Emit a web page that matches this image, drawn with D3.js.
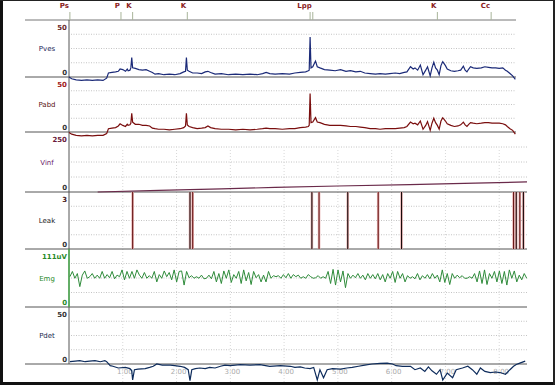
<!DOCTYPE html>
<html>
<head>
<meta charset="utf-8">
<script src="https://cdn.jsdelivr.net/npm/d3@7/dist/d3.min.js"></script>
<style>
  body { margin: 0; background: #fff; }
  svg { display: block; font-family: "DejaVu Sans", sans-serif; }
</style>
</head>
<body>
<svg id="chart" width="555" height="385"></svg>
<script>
// ---- data (time in seconds) ----
const markerNames = ['Ps', 'P', 'K', 'K', 'Lpp', 'K', 'Cc'];
const markerTicks = [[1], [58], [71], [132], [269, 272], [411], [471]];

const timeTicks = [60, 120, 180, 240, 300, 360, 420, 480];

const pves = [[0,0],[3,-1.5],[8,-2.5],[14,-3],[20,-2.5],[26,-3],[32,-2.5],[38,-3],[42,-1],[44,3.5],[48,4],[52,4.5],[55,5],[57,7],[60,6.5],[63,5],[65,7],[66,5.5],[68,6],[69,8],[70,17],[71,8],[74,7.5],[78,6.5],[82,6],[86,6.5],[90,5],[93,4],[96,2.5],[100,3],[106,2],[112,2.5],[118,2],[124,3],[128,4.5],[130,5],[131,17],[132,6],[134,5],[138,3.5],[143,3.5],[148,3],[152,4.5],[155,5],[158,4],[163,2.5],[170,3],[178,2],[186,2.5],[194,2],[202,2.5],[210,2],[216,3],[220,4],[224,3],[230,2.5],[238,3],[246,2.5],[252,3.5],[258,4],[264,4.5],[267,5.5],[268,6],[269,35],[270,8],[272,9],[275,14],[277,9],[280,8],[285,6.5],[291,6],[297,5.5],[303,6.5],[309,5],[314,5.5],[320,4.5],[325,5],[330,3.5],[336,3],[342,2.5],[347,3],[353,2.5],[358,3],[364,3.5],[369,3],[374,4],[377,4.5],[381,9],[384,7],[386,8],[389,6],[392,10.5],[395,2],[398,6],[400,9],[403,1],[405,8],[407,13],[409,8],[411,6],[413,2],[415,10],[417,13.5],[420,10],[422,7],[426,5.5],[430,5],[434,5.5],[437,6],[440,9.5],[442,6],[444,4.5],[446,7],[448,9],[451,8],[455,7.5],[460,8],[464,9],[468,8.5],[472,8],[476,8],[480,7.5],[484,8],[487,6],[489,5],[492,3],[495,1],[498,-2]];

const pabd = [[0,-0.5],[3,-2],[8,-3],[14,-3.5],[20,-3],[26,-3.5],[32,-3],[38,-3],[42,-1.5],[44,3],[48,3.5],[52,4],[55,5.5],[57,7.5],[60,6],[63,5],[65,7],[66,6],[68,6.5],[69,8],[70,17],[71,9],[74,7],[78,7],[82,6],[86,6],[90,5.5],[93,3.5],[96,3],[100,2.5],[106,2.5],[112,2],[118,2.5],[124,3],[128,4],[130,5.5],[131,17],[132,6.5],[134,5],[138,4],[143,3],[148,3.5],[152,4],[155,5.5],[158,4],[163,3],[170,2.5],[178,2.5],[186,2],[194,2.5],[202,2],[210,2.5],[216,3],[220,3.5],[224,3],[230,3],[238,2.5],[246,3],[252,3],[258,4],[264,4.5],[267,5],[268,6],[269,35],[270,8.5],[272,9],[275,13],[277,9],[280,8.5],[285,7],[291,6],[297,6],[303,6],[309,5.5],[314,5],[320,5],[325,4.5],[330,4],[336,3],[342,3],[347,2.5],[353,3],[358,3],[364,3],[369,3.5],[374,4],[377,5],[381,9],[384,7.5],[386,8],[389,6.5],[392,10],[395,2.5],[398,6],[400,9.5],[403,1.5],[405,8],[407,12.5],[409,8.5],[411,6],[413,2.5],[415,10],[417,13],[420,10],[422,7.5],[426,6],[430,5],[434,5.5],[437,6.5],[440,9],[442,6.5],[444,5],[446,7],[448,8.5],[451,8],[455,7.5],[460,8],[464,8.5],[468,8.5],[472,8],[476,8],[480,8],[484,7.5],[487,6.5],[489,5],[492,3],[495,1.5],[498,-2]];

const vinf = [[32,0],[100,7],[170,13],[230,19],[300,25],[380,31],[453,37],[511,42]];

const leakTimes = [71, 135, 138, 271, 279, 311, 345, 371, 496, 499, 503, 507];

// EMG samples, read every ~2.77 s starting at 1 s
const emgStart = 1, emgStep = 2.77;
const emg = [58,68,55,64,39,61,69,55,58,64,55,61,55,68,55,62,56,68,54,61,58,71,52,68,55,68,55,71,61,55,66,55,60,55,68,48,62,55,69,58,66,52,71,48,68,69,42,68,56,60,55,58,55,61,54,55,61,54,68,48,64,45,69,55,71,47,62,55,68,45,71,50,66,43,68,56,62,48,61,48,68,55,60,
  58,60,55,62,56,64,55,62,58,61,55,58,55,62,58,55,56,60,55,58,55,68,45,72,42,71,48,69,37,64,55,61,56,64,55,61,52,64,55,62,54,64,52,62,48,64,55,68,47,68,55,64,48,60,55,58,54,64,52,60,55,62,54,64,55,61,48,71,47,64,43,64,55,61,56,60,55,55,58,55,64,48,69,45,71,43,64,55,68,48,69,45,68,42,71,55,69,48,61,52,64,55];

const pdet = [[1,2],[7,2.5],[12,3],[18,2],[23,2.5],[29,3],[35,2],[40,3],[42,2],[46,-1.5],[49,-2],[55,-3.5],[63,-3],[68,-4],[70,-6],[71,-14],[73,-5],[77,-4.5],[85,-4],[90,-3],[94,-2],[98,0],[104,-1],[113,-1],[118,-1.5],[124,-2],[129,-3],[133,-5],[135,-14.5],[137,-5],[141,-4],[146,-3.5],[152,-4],[157,-3],[163,-3.5],[169,-2],[174,-1],[180,-1.5],[191,-0.5],[202,-1],[213,-0.5],[224,-2],[236,-1.5],[247,-2],[252,-3],[258,-2.5],[263,-3.5],[269,-4],[273,-3],[277,-14],[280,-5],[284,-12],[288,-5],[294,-4],[303,-4.5],[310,-3.5],[316,-3],[323,-2],[330,-1],[338,0],[347,0.5],[355,0.8],[361,0],[365,-1.5],[372,-2],[381,-2],[386,-5],[392,-3.5],[397,-6.5],[401,-2.5],[405,-6],[410,-9],[414,-5],[417,-14],[422,-8],[428,-12],[432,-5],[439,-3.5],[445,-2],[450,-5],[455,-9],[459,-3.5],[464,-6.5],[470,-7.5],[476,-7],[481,-7.5],[487,-9],[492,-5],[496,-2],[499,-0.5],[503,0.8],[509,2.5]];

// ---- layout ----
const svg = d3.select('#chart');
const x = d3.scaleLinear().domain([0, 511]).range([69, 527]);
const leftX = 25, axisX = 69, rightX = 527, rightTop = 516;

const panels = [
  { name: 'Pves', top: 20,  bottom: 77,  max: 50,  maxLabel: '50',    color: '#1b2556', numColor: '#6a2a2a', right: rightTop },
  { name: 'Pabd', top: 77,  bottom: 132, max: 50,  maxLabel: '50',    color: '#5a1212', numColor: '#a02020', right: rightTop },
  { name: 'Vinf', top: 132, bottom: 192, max: 250, maxLabel: '250',   color: '#6a1a6a', numColor: '#6a1a3a', right: rightX },
  { name: 'Leak', top: 192, bottom: 249, max: 3,   maxLabel: '3',     color: '#222',    numColor: '#4a1a1a', right: rightX },
  { name: 'Emg',  top: 249, bottom: 307, max: 111, maxLabel: '111uV', color: '#2a8a2a', numColor: '#2a8a2a', right: rightX },
  { name: 'Pdet', top: 307, bottom: 364, max: 50,  maxLabel: '50',    color: '#1b2d50', numColor: '#333',    right: rightX }
];
panels.forEach(p => { p.y = d3.scaleLinear().domain([0, p.max]).range([p.bottom, p.top]); });

// outer frame
svg.append('rect').attr('x', 0).attr('y', 0).attr('width', 555).attr('height', 385).attr('fill', '#fff');

// vertical minute grid
svg.append('g').selectAll('line').data(timeTicks).join('line')
  .attr('x1', d => x(d)).attr('x2', d => x(d))
  .attr('y1', 150).attr('y2', 385)
  .attr('stroke', '#d8d8d8').attr('stroke-dasharray', '1,2');

// horizontal grid inside panels
panels.forEach(p => {
  svg.append('g').selectAll('line').data([0.25, 0.5, 0.75]).join('line')
    .attr('x1', axisX + 2).attr('x2', p.right)
    .attr('y1', f => p.y(p.max * f)).attr('y2', f => p.y(p.max * f))
    .attr('stroke', '#c4c4c4').attr('stroke-dasharray', '1,1.5');
});

// time labels
svg.append('g').selectAll('text').data(timeTicks).join('text')
  .attr('x', d => x(d) + 2).attr('y', 374)
  .attr('text-anchor', 'middle').attr('font-size', 7).attr('fill', '#aaa')
  .text(d => Math.floor(d / 60) + ':00');

// panel separators
svg.append('line').attr('x1', leftX).attr('x2', rightTop).attr('y1', 20).attr('y2', 20).attr('stroke', '#777');
panels.forEach(p => {
  svg.append('line').attr('x1', leftX).attr('x2', p.right)
    .attr('y1', p.bottom).attr('y2', p.bottom).attr('stroke', '#555');
});

// left axis
svg.append('line').attr('x1', axisX).attr('x2', axisX).attr('y1', 20).attr('y2', 364).attr('stroke', '#555');
svg.append('line').attr('x1', axisX).attr('x2', axisX).attr('y1', 249).attr('y2', 307)
  .attr('stroke', '#4caf50').attr('stroke-width', 1.5);

// labels
panels.forEach(p => {
  svg.append('text').attr('x', 47).attr('y', (p.top + p.bottom) / 2 + 2.5)
    .attr('text-anchor', 'middle').attr('font-size', 7).attr('fill', p.color).text(p.name);
  svg.append('text').attr('x', 67).attr('y', p.top + 9.5)
    .attr('text-anchor', 'end').attr('font-size', 7).attr('font-weight', 'bold')
    .attr('fill', p.numColor).text(p.maxLabel);
  svg.append('text').attr('x', 67).attr('y', p.bottom - 2)
    .attr('text-anchor', 'end').attr('font-size', 7).attr('font-weight', 'bold')
    .attr('fill', p.name === 'Emg' ? p.numColor : '#333').text('0');
});

// markers
const mk = svg.append('g');
markerNames.forEach((name, i) => {
  const ticks = markerTicks[i];
  ticks.forEach(t => {
    mk.append('line').attr('x1', x(t)).attr('x2', x(t)).attr('y1', 12).attr('y2', 20)
      .attr('stroke', '#a8b49a').attr('stroke-width', 1);
  });
  mk.append('text').attr('x', x(ticks[ticks.length - 1]) - 1).attr('y', 8)
    .attr('text-anchor', 'end').attr('font-size', 7).attr('font-weight', 'bold')
    .attr('fill', '#8b1a1a').text(name);
});

// traces
const line = (yScale) => d3.line().x(d => x(d[0])).y(d => yScale(d[1]));
const [pPves, pPabd, pVinf, pLeak, pEmg, pPdet] = panels;

svg.append('path').datum(pves).attr('d', line(pPves.y))
  .attr('fill', 'none').attr('stroke', '#1b2a78').attr('stroke-width', 1.2);
svg.append('path').datum(pabd).attr('d', line(pPabd.y))
  .attr('fill', 'none').attr('stroke', '#7a0e0e').attr('stroke-width', 1.2);
svg.append('path').datum(vinf).attr('d', line(pVinf.y))
  .attr('fill', 'none').attr('stroke', '#6a2a4a').attr('stroke-width', 1.2);

// leak events
const lk = svg.append('g');
lk.selectAll('line.halo').data(leakTimes).join('line').attr('class', 'halo')
  .attr('x1', d => x(d)).attr('x2', d => x(d))
  .attr('y1', pLeak.y(3)).attr('y2', pLeak.y(0))
  .attr('stroke', '#e8b4b4').attr('stroke-width', 2.6);
lk.selectAll('line.core').data(leakTimes).join('line').attr('class', 'core')
  .attr('x1', d => x(d)).attr('x2', d => x(d))
  .attr('y1', pLeak.y(3)).attr('y2', pLeak.y(0))
  .attr('stroke', (d, i) => i % 2 ? '#1a0a0a' : '#6a1818').attr('stroke-width', 1.1);

// EMG
svg.append('path').datum(emg).attr('d', d3.line()
    .x((d, i) => x(emgStart + i * emgStep)).y(d => pEmg.y(d)))
  .attr('fill', 'none').attr('stroke', '#2e8b3a').attr('stroke-width', 1);

svg.append('path').datum(pdet).attr('d', line(pPdet.y))
  .attr('fill', 'none').attr('stroke', '#0e2c5c').attr('stroke-width', 1.2);

// frame edges
svg.append('rect').attr('x', 0).attr('y', 0).attr('width', 3).attr('height', 385).attr('fill', '#111');
svg.append('rect').attr('x', 0).attr('y', 382).attr('width', 555).attr('height', 3).attr('fill', '#111');
svg.append('rect').attr('x', 0).attr('y', 0).attr('width', 555).attr('height', 1).attr('fill', '#222');
svg.append('rect').attr('x', 553).attr('y', 0).attr('width', 2).attr('height', 385).attr('fill', '#222');
</script>
</body>
</html>
